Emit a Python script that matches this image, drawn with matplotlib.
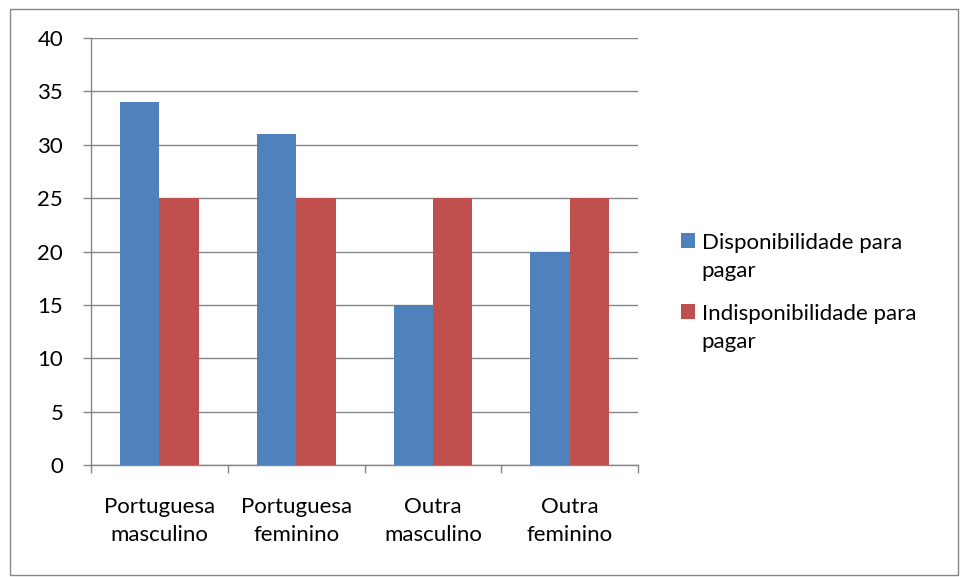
import matplotlib.pyplot as plt
import numpy as np
from matplotlib.patches import Rectangle

plt.rcParams['font.family'] = ['Lato', 'DejaVu Sans']

# dados
categorias = ['Portuguesa\nmasculino', 'Portuguesa\nfeminino', 'Outra\nmasculino', 'Outra\nfeminino']
disponibilidade = [34, 31, 15, 20]
indisponibilidade = [25, 25, 25, 25]
series = ['Disponibilidade para\npagar', 'Indisponibilidade para\npagar']

azul = '#4F81BD'
vermelho = '#C0504D'
cinza = '#868686'
fs = 16

fig = plt.figure(figsize=(9.6, 5.77), dpi=100)
ax = fig.add_axes([0.0948, 0.194, 0.57, 0.74])

x = np.arange(len(categorias))
w = 0.288
ax.bar(x - w / 2, disponibilidade, w, color=azul, label=series[0], zorder=3)
ax.bar(x + w / 2, indisponibilidade, w, color=vermelho, label=series[1], zorder=3)

ax.set_xlim(-0.5, len(categorias) - 0.5)
ax.set_ylim(0, 40)
ax.set_yticks(range(0, 41, 5))
ax.yaxis.grid(True, color=cinza, linewidth=1, zorder=0)

# ticks do eixo x nos limites das categorias
ax.set_xticks(np.arange(-0.5, len(categorias), 1))
ax.set_xticklabels([])
ax.set_xticks(x, minor=True)
ax.set_xticklabels(categorias, minor=True, fontsize=fs, linespacing=1.5)
ax.tick_params(axis='x', which='minor', length=0, pad=23)
ax.tick_params(axis='x', which='major', length=6, color=cinza, width=1)
ax.tick_params(axis='y', length=6, color=cinza, width=1, labelsize=fs, pad=14)

for s in ['top', 'right']:
    ax.spines[s].set_visible(False)
for s in ['left', 'bottom']:
    ax.spines[s].set_color(cinza)
    ax.spines[s].set_linewidth(1)

leg = ax.legend(loc='upper left', bbox_to_anchor=(0.709, 1 - 233 / 577),
                bbox_transform=fig.transFigure, frameon=False, fontsize=fs,
                handlelength=0.65, handleheight=0.65, handletextpad=0.3,
                labelspacing=1.05, borderpad=0, borderaxespad=0)
for t in leg.get_texts():
    t.set_linespacing(1.5)
for col in leg._legend_handle_box.get_children():
    for item in col.get_children():
        item.align = 'top'

# moldura do gráfico
fig.patches.append(Rectangle((10 / 960, 2 / 577), 948 / 960, 566 / 577,
                             transform=fig.transFigure, fill=False,
                             edgecolor=cinza, linewidth=1))

fig.savefig('out.png', dpi=100)
